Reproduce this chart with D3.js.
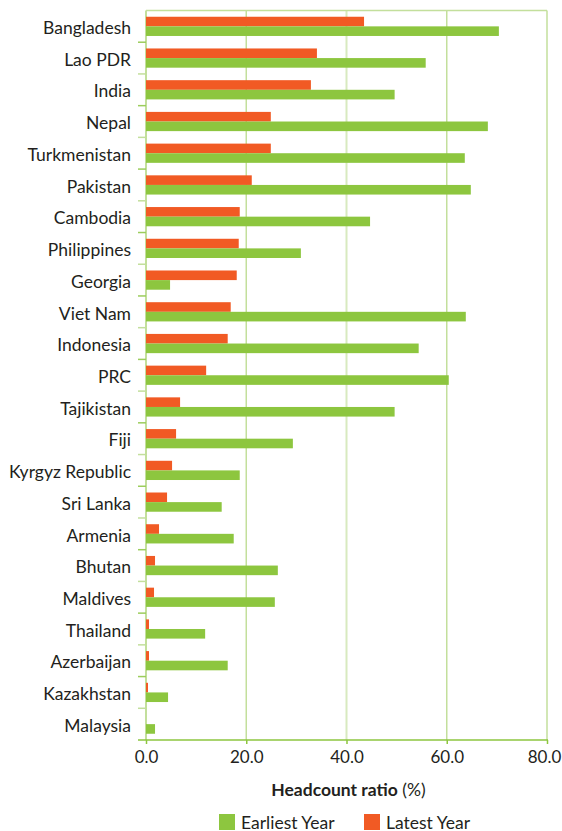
<!DOCTYPE html>
<html>
<head>
<meta charset="utf-8">
<script src="https://cdn.jsdelivr.net/npm/d3@7/dist/d3.min.js"></script>
<style>
  html, body { margin: 0; padding: 0; background: #fff; }
  svg { display: block; }
  text { font-family: Lato, "Open Sans", sans-serif; fill: #231f20; }
</style>
</head>
<body>
<svg id="chart" width="562" height="831"></svg>
<script>
const categories = ["Bangladesh","Lao PDR","India","Nepal","Turkmenistan","Pakistan","Cambodia","Philippines","Georgia","Viet Nam","Indonesia","PRC","Tajikistan","Fiji","Kyrgyz Republic","Sri Lanka","Armenia","Bhutan","Maldives","Thailand","Azerbaijan","Kazakhstan","Malaysia"];
const earliestYear = [70.4,55.8,49.6,68.2,63.6,64.8,44.7,30.9,4.8,63.8,54.4,60.4,49.6,29.3,18.7,15.1,17.5,26.3,25.7,11.8,16.3,4.4,1.8];
const latestYear   = [43.5,34.1,32.9,24.9,24.9,21.1,18.7,18.5,18.1,16.9,16.3,12.0,6.8,6.0,5.2,4.2,2.6,1.8,1.6,0.6,0.6,0.4,0.0];
const xTicks = [0,20,40,60,80];
const seriesNames = ["Earliest Year","Latest Year"];
const colors = {"Earliest Year":"#8dc63f","Latest Year":"#f15a24"};

(function(){
const svg = d3.select("#chart");
const pl = 146, pr = 547, pt = 10.5, pb = 740;

const x = d3.scaleLinear().domain([0,80]).range([pl,pr]);
const y = d3.scaleBand().domain(categories).range([pt,pb]).padding(0);
const sub = d3.scaleBand().domain(["Latest Year","Earliest Year"]).range([0,y.bandwidth()]).paddingInner(0).paddingOuter(0.65);

const rows = categories.map((c,i)=>({cat:c, "Earliest Year":earliestYear[i], "Latest Year":latestYear[i]}));

// gridlines
svg.append("g").selectAll("line").data(xTicks.slice(1)).join("line")
  .attr("x1", d=>x(d)).attr("x2", d=>x(d))
  .attr("y1", pt).attr("y2", pb)
  .attr("stroke", d=> d===40 ? "#d8eabf" : "#c3df9c")
  .attr("stroke-width", d=> d===40 ? 2 : 1.5);
// top border
svg.append("line").attr("x1", pl).attr("x2", pr).attr("y1", pt).attr("y2", pt)
  .attr("stroke","#c3df9c").attr("stroke-width",1.5);

// left axis line and band ticks
svg.append("line").attr("x1", pl).attr("x2", pl).attr("y1", pt).attr("y2", pb)
  .attr("stroke","#c3df9c").attr("stroke-width",2);
const bounds = categories.map(c=>y(c)).slice(1);
svg.append("g").selectAll("line").data(bounds).join("line")
  .attr("x1", pl-8).attr("x2", pl)
  .attr("y1", d=>d).attr("y2", d=>d)
  .attr("stroke", (d,i)=> i%2===0 ? "#9ccd5c" : "#c3df9c").attr("stroke-width",1.5);

// bars
const g = svg.append("g");
rows.forEach(r=>{
  ["Latest Year","Earliest Year"].forEach(s=>{
    g.append("rect")
      .attr("x", x(0))
      .attr("y", y(r.cat)+sub(s))
      .attr("width", Math.max(0, x(r[s])-x(0)))
      .attr("height", sub.bandwidth())
      .attr("fill", colors[s]);
  });
});

// bottom axis
const xAxis = d3.axisBottom(x).tickValues(xTicks).tickFormat(d3.format(".1f")).tickSize(4).tickPadding(7);
const ax = svg.append("g").attr("transform",`translate(0,${pb})`).call(xAxis);
ax.select(".domain").attr("stroke","#8dc63f").attr("stroke-width",1.5).attr("d",`M${pl-8},0H${pr+1}`);
ax.selectAll(".tick line").attr("stroke","#8dc63f").attr("stroke-width",1.5);
ax.selectAll(".tick text").attr("font-size","17px").attr("font-family","Lato, sans-serif").attr("fill","#231f20")
  .attr("dx", d => d===80 ? -3 : 0);

// category labels
svg.append("g").selectAll("text").data(categories).join("text")
  .attr("x", 131).attr("y", d=>y(d)+y.bandwidth()/2+7.7)
  .attr("text-anchor","end")
  .attr("font-size","17.5px").text(d=>d);

// axis title
const t = svg.append("text").attr("x", (pl+pr)/2+2).attr("y", 796).attr("text-anchor","middle").attr("font-size","17.5px");
t.append("tspan").attr("font-weight","bold").text("Headcount ratio");
t.append("tspan").text(" (%)");

// legend
const legX = [219, 364];
seriesNames.forEach((s,i)=>{
  svg.append("rect").attr("x", legX[i]).attr("y", 814).attr("width",16).attr("height",16).attr("fill", colors[s]);
  svg.append("text").attr("x", legX[i]+22).attr("y", 828.5).attr("font-size","17.5px").text(s);
});
})();
</script>
</body>
</html>
